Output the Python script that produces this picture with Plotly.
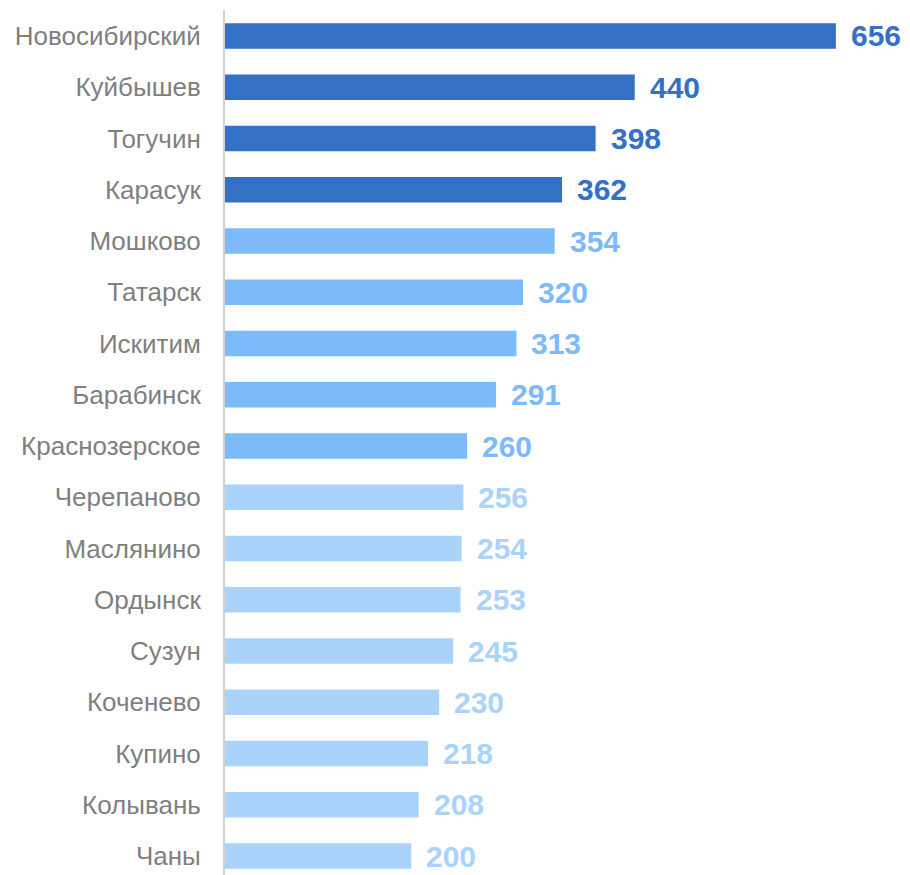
import plotly.graph_objects as go

# ==============================
# DATA
# ==============================
towns = ['Новосибирский', 'Куйбышев', 'Тогучин', 'Карасук', 'Мошково', 'Татарск',
         'Искитим', 'Барабинск', 'Краснозерское', 'Черепаново', 'Маслянино',
         'Ордынск', 'Сузун', 'Коченево', 'Купино', 'Колывань', 'Чаны']
values = [656, 440, 398, 362, 354, 320, 313, 291, 260, 256, 254, 253, 245, 230, 218, 208, 200]
groups = ['top'] * 4 + ['mid'] * 5 + ['low'] * 8

group_colors = {'top': '#3470C3', 'mid': '#7DBAFA', 'low': '#AAD3FB'}
colors = [group_colors[g] for g in groups]

# ==============================
# BARS
# ==============================
bars = go.Bar(x=values, y=towns, orientation='h',
              marker=dict(color=colors, line=dict(width=0)),
              width=0.5, hoverinfo='x+y')

fig = go.Figure(data=[bars])

# value labels to the right of each bar
for town, val, col in zip(towns, values, colors):
    fig.add_annotation(x=val, y=town, text=str(val), showarrow=False,
                       xanchor='left', xshift=13, yshift=0,
                       font=dict(family='Arial, Liberation Sans', size=30, color=col,
                                 weight='bold'))

# the page body has an 8px margin, so the figure is sized/offset to compensate
fig.update_layout(
    width=902, height=867,
    margin=dict(l=217, r=0, t=2, b=0),
    paper_bgcolor='white', plot_bgcolor='white',
    showlegend=False,
    xaxis=dict(range=[0, 735.6], visible=False, fixedrange=True),
    yaxis=dict(type='category', range=[16.37, -0.507],
               showgrid=False, zeroline=False,
               showline=True, linecolor='#d0d0d0', linewidth=2,
               ticks='', ticklabelstandoff=17,
               tickfont=dict(family='Arial, Liberation Sans', size=26, color='#7f7f7f')),
)

fig.write_html("out.html")
